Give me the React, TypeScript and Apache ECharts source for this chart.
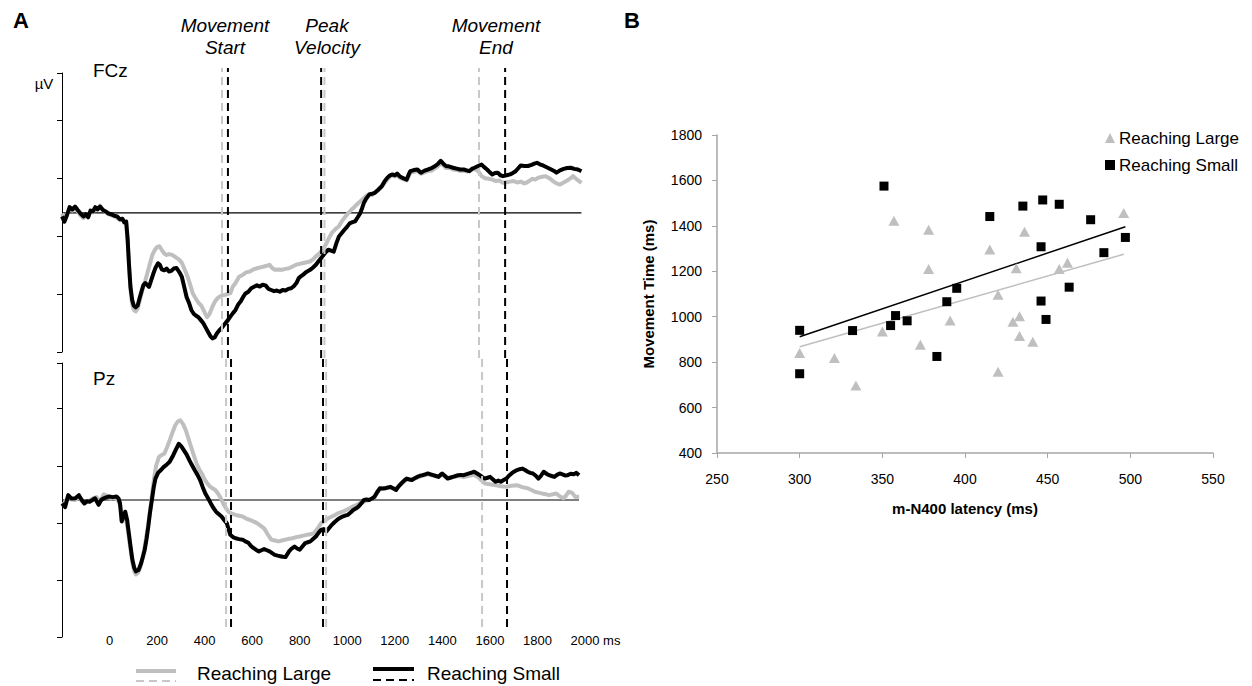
import React, { useEffect, useRef } from "react";
import * as echarts from "echarts";

const FONT = "Liberation Sans, Arial, sans-serif";
const GRAY = "#bfbfbf";
const BLACK = "#000000";

// ERP waveforms, [time (ms), amplitude (µV)]
const fczLarge: [number, number][] = [
  [-200,-0.02],[-190,-0.2],[-180,-0.05],[-168,0.12],[-156,0.08],[-145,0.18],[-134,0.05],[-122,-0.08],[-110,-0.18],[-100,-0.1],
  [-90,-0.12],[-80,0.05],[-70,0.02],[-60,0.15],[-50,0.15],[-40,0.25],[-28,0.12],[-16,0.02],[-4,-0.05],[8,-0.08],
  [20,-0.12],[32,-0.18],[44,-0.25],[54,-0.22],[62,-0.35],[70,-0.35],[76,-0.95],[82,-1.85],[88,-2.65],[95,-3.15],
  [102,-3.35],[110,-3.4],[118,-3.3],[126,-3.05],[134,-2.8],[142,-2.55],[150,-2.35],[160,-2.05],[170,-1.75],[180,-1.45],
  [190,-1.28],[200,-1.18],[210,-1.15],[220,-1.28],[230,-1.4],[240,-1.45],[250,-1.42],[260,-1.44],[270,-1.48],[282,-1.55],
  [294,-1.62],[304,-1.72],[316,-1.95],[328,-2.19],[338,-2.45],[350,-2.77],[362,-2.95],[374,-3.1],[386,-3.2],[398,-3.4],
  [410,-3.6],[420,-3.5],[433,-3.23],[444,-3.05],[455,-2.94],[470,-2.85],[485,-2.83],[496,-2.8],[508,-2.77],[518,-2.55],
  [530,-2.42],[545,-2.2],[560,-2.14],[575,-2.05],[590,-2.02],[605,-1.95],[620,-1.91],[635,-1.88],[650,-1.85],[662,-1.82],
  [673,-1.79],[684,-1.9],[695,-1.96],[710,-1.95],[725,-1.96],[740,-1.93],[755,-1.91],[770,-1.85],[785,-1.79],[800,-1.76],
  [815,-1.73],[830,-1.7],[845,-1.67],[856,-1.6],[868,-1.5],[880,-1.42],[890,-1.33],[902,-1.2],[913,-1.04],[924,-0.85],
  [935,-0.69],[950,-0.56],[965,-0.46],[976,-0.3],[988,-0.17],[1003,-0.02],[1018,0.12],[1029,0.2],[1040,0.29],[1052,0.38],
  [1063,0.46],[1078,0.58],[1093,0.66],[1104,0.62],[1115,0.7],[1130,0.78],[1145,0.9],[1156,1.02],[1168,1.15],[1180,1.25],
  [1190,1.3],[1200,1.26],[1210,1.3],[1220,1.22],[1235,1.17],[1250,1.12],[1258,1.26],[1265,1.38],[1280,1.42],[1295,1.45],
  [1310,1.35],[1325,1.4],[1340,1.45],[1355,1.46],[1370,1.55],[1382,1.62],[1393,1.7],[1404,1.64],[1415,1.55],[1430,1.56],
  [1445,1.5],[1460,1.48],[1475,1.45],[1490,1.46],[1505,1.43],[1520,1.48],[1535,1.52],[1550,1.45],[1565,1.27],[1580,1.2],
  [1595,1.18],[1610,1.15],[1625,1.1],[1640,1.12],[1655,1.04],[1670,1.06],[1685,1.08],[1700,1.1],[1715,1.05],[1730,1.08],
  [1745,1.02],[1753,1.04],[1765,1.1],[1778,1.18],[1790,1.15],[1805,1.22],[1820,1.25],[1835,1.27],[1850,1.2],[1865,1.1],
  [1880,1.02],[1895,0.98],[1910,1.05],[1925,1.12],[1940,1.2],[1950,1.27],[1962,1.18],[1975,1.1],[1985,1.04],
];

const fczSmall: [number, number][] = [
  [-200,-0.12],[-190,-0.3],[-180,-0.1],[-168,0.2],[-156,0.12],[-145,0.22],[-134,0.1],[-122,-0.02],[-110,-0.12],[-100,-0.05],
  [-90,-0.15],[-80,0.08],[-70,0.05],[-60,0.2],[-50,0.12],[-40,0.22],[-28,0.1],[-16,0.05],[-4,-0.02],[8,-0.05],
  [20,-0.1],[32,-0.12],[44,-0.22],[54,-0.2],[62,-0.32],[70,-0.3],[76,-0.9],[82,-1.8],[88,-2.55],[95,-3.0],
  [102,-3.2],[110,-3.26],[118,-3.2],[126,-2.95],[134,-2.72],[142,-2.5],[150,-2.42],[158,-2.48],[166,-2.55],[174,-2.35],
  [184,-2.1],[194,-1.88],[204,-1.74],[212,-1.8],[220,-1.95],[230,-1.98],[240,-1.92],[250,-2.02],[260,-2.0],[270,-1.92],
  [282,-1.9],[294,-2.05],[304,-2.2],[314,-2.55],[324,-2.9],[334,-3.1],[344,-3.35],[354,-3.48],[364,-3.55],[374,-3.6],
  [384,-3.7],[394,-3.8],[404,-3.95],[414,-4.1],[424,-4.25],[433,-4.33],[442,-4.3],[452,-4.15],[462,-4.05],[474,-3.95],
  [486,-3.82],[498,-3.7],[508,-3.58],[520,-3.45],[530,-3.35],[542,-3.15],[552,-3.05],[562,-2.9],[572,-2.78],[584,-2.72],
  [596,-2.6],[608,-2.55],[620,-2.5],[632,-2.54],[644,-2.48],[656,-2.5],[668,-2.62],[680,-2.66],[692,-2.7],[704,-2.68],
  [716,-2.72],[728,-2.66],[740,-2.68],[752,-2.62],[764,-2.6],[776,-2.52],[786,-2.42],[796,-2.25],[806,-2.18],[816,-2.12],
  [826,-2.05],[836,-2.0],[846,-1.95],[856,-1.88],[868,-1.79],[880,-1.66],[890,-1.56],[900,-1.45],[910,-1.35],[920,-1.27],
  [932,-1.3],[943,-1.34],[954,-1.05],[965,-0.81],[976,-0.7],[988,-0.58],[999,-0.48],[1010,-0.36],[1022,-0.32],[1033,-0.29],
  [1044,-0.15],[1055,0.0],[1063,0.18],[1070,0.35],[1080,0.5],[1093,0.64],[1104,0.66],[1115,0.69],[1130,0.8],[1145,0.92],
  [1156,1.08],[1168,1.21],[1180,1.3],[1190,1.33],[1200,1.3],[1210,1.36],[1220,1.27],[1235,1.2],[1250,1.15],[1258,1.32],
  [1265,1.44],[1280,1.48],[1295,1.5],[1305,1.42],[1310,1.39],[1325,1.46],[1340,1.5],[1355,1.55],[1370,1.62],[1382,1.7],
  [1393,1.8],[1404,1.7],[1415,1.62],[1430,1.6],[1445,1.56],[1460,1.53],[1475,1.5],[1490,1.5],[1502,1.47],[1513,1.44],
  [1524,1.52],[1535,1.56],[1550,1.62],[1565,1.67],[1576,1.58],[1588,1.5],[1600,1.4],[1610,1.33],[1622,1.38],[1633,1.39],
  [1644,1.3],[1655,1.27],[1670,1.3],[1685,1.33],[1697,1.38],[1708,1.44],[1720,1.55],[1730,1.64],[1745,1.62],[1760,1.62],
  [1775,1.66],[1787,1.7],[1798,1.73],[1810,1.68],[1820,1.65],[1828,1.62],[1843,1.56],[1858,1.5],[1870,1.45],[1880,1.39],
  [1895,1.47],[1910,1.52],[1925,1.55],[1940,1.56],[1955,1.52],[1970,1.5],[1985,1.44],
];

const pzLarge: [number, number][] = [
  [-199,-0.2],[-185,-0.05],[-174,0.1],[-160,0.02],[-144,0.0],[-129,0.1],[-115,-0.05],[-100,-0.1],[-84,-0.02],[-70,0.05],
  [-55,0.1],[-40,-0.05],[-24,0.2],[-10,0.15],[5,0.05],[20,0.08],[35,0.0],[45,-0.2],[55,-0.6],[66,-0.55],
  [76,-1.0],[86,-1.6],[96,-2.2],[104,-2.5],[111,-2.61],[120,-2.55],[130,-2.35],[140,-2.0],[148,-1.63],[160,-1.0],
  [171,-0.35],[180,0.3],[188,0.8],[196,1.2],[208,1.51],[220,1.58],[231,1.63],[242,1.85],[253,2.09],[264,2.35],
  [276,2.61],[287,2.75],[298,2.79],[310,2.65],[321,2.44],[332,2.15],[343,1.86],[355,1.55],[366,1.28],[377,1.08],
  [388,0.93],[400,0.72],[411,0.58],[422,0.48],[433,0.41],[445,0.35],[456,0.23],[467,0.08],[478,-0.12],[489,-0.28],
  [500,-0.41],[515,-0.48],[530,-0.52],[545,-0.55],[560,-0.58],[575,-0.65],[590,-0.7],[605,-0.75],[620,-0.81],[635,-0.9],
  [650,-0.99],[665,-1.2],[680,-1.39],[695,-1.42],[710,-1.45],[725,-1.42],[740,-1.39],[755,-1.36],[770,-1.34],[785,-1.3],
  [800,-1.28],[815,-1.25],[830,-1.22],[845,-1.2],[860,-1.16],[875,-1.0],[890,-0.81],[905,-0.72],[920,-0.64],[935,-0.58],
  [950,-0.52],[965,-0.45],[980,-0.41],[995,-0.35],[1010,-0.29],[1025,-0.22],[1040,-0.17],[1055,-0.1],[1070,-0.06],[1092,0.0],
  [1115,0.1],[1137,0.38],[1160,0.42],[1182,0.44],[1205,0.4],[1227,0.55],[1250,0.72],[1272,0.72],[1294,0.78],[1317,0.85],
  [1339,0.9],[1362,0.85],[1384,0.82],[1399,0.88],[1422,0.78],[1444,0.8],[1467,0.84],[1489,0.8],[1512,0.85],[1534,0.88],
  [1549,0.81],[1565,0.68],[1579,0.58],[1600,0.55],[1624,0.52],[1646,0.48],[1669,0.46],[1690,0.5],[1714,0.52],[1736,0.45],
  [1759,0.41],[1775,0.35],[1789,0.29],[1805,0.26],[1819,0.23],[1835,0.2],[1849,0.17],[1865,0.2],[1879,0.23],[1895,0.12],
  [1909,0.06],[1920,0.15],[1931,0.29],[1946,0.25],[1960,0.1],[1975,0.12],
];

const pzSmall: [number, number][] = [
  [-199,-0.12],[-187,-0.25],[-174,0.17],[-160,0.05],[-144,0.06],[-129,0.17],[-117,0.0],[-106,-0.12],[-95,-0.04],[-84,-0.06],
  [-72,0.0],[-61,0.06],[-46,-0.17],[-35,0.0],[-24,0.06],[-12,0.1],[-1,0.12],[14,0.1],[29,0.12],[38,0.05],
  [44,-0.12],[51,-0.75],[58,-0.6],[66,-0.41],[74,-0.7],[81,-1.16],[88,-1.6],[96,-2.09],[104,-2.38],[111,-2.5],
  [122,-2.45],[133,-2.21],[140,-2.0],[148,-1.74],[156,-1.35],[163,-0.93],[170,-0.45],[178,0.0],[186,0.45],[193,0.75],
  [204,0.95],[216,1.05],[227,1.15],[238,1.22],[253,1.34],[268,1.57],[280,1.78],[291,1.97],[302,1.88],[313,1.74],
  [325,1.58],[336,1.39],[347,1.22],[358,1.05],[370,0.88],[381,0.7],[392,0.45],[403,0.23],[415,0.05],[426,-0.12],
  [437,-0.28],[448,-0.41],[460,-0.5],[471,-0.58],[482,-0.7],[493,-0.81],[500,-1.0],[508,-1.22],[519,-1.3],[530,-1.34],
  [545,-1.37],[560,-1.39],[571,-1.45],[583,-1.49],[594,-1.6],[605,-1.68],[617,-1.75],[628,-1.8],[639,-1.76],[650,-1.72],
  [662,-1.76],[673,-1.8],[684,-1.86],[695,-1.92],[707,-1.95],[718,-1.97],[729,-1.99],[740,-2.0],[748,-1.9],[755,-1.8],
  [766,-1.7],[778,-1.63],[789,-1.7],[800,-1.74],[812,-1.62],[823,-1.51],[834,-1.48],[845,-1.45],[857,-1.36],[868,-1.28],
  [879,-1.15],[890,-1.05],[901,-1.02],[912,-1.1],[924,-0.98],[935,-0.87],[946,-0.78],[957,-0.7],[969,-0.63],[980,-0.58],
  [991,-0.55],[1002,-0.52],[1014,-0.44],[1025,-0.35],[1036,-0.3],[1047,-0.23],[1059,-0.12],[1070,0.0],[1081,0.02],[1092,0.0],
  [1104,0.05],[1115,0.12],[1126,0.28],[1137,0.41],[1149,0.4],[1160,0.41],[1171,0.44],[1182,0.46],[1194,0.4],[1205,0.35],
  [1216,0.48],[1227,0.58],[1239,0.68],[1250,0.75],[1261,0.72],[1272,0.7],[1283,0.76],[1294,0.81],[1306,0.85],[1317,0.87],
  [1328,0.9],[1339,0.93],[1351,0.9],[1362,0.87],[1373,0.84],[1384,0.81],[1392,0.88],[1399,0.93],[1410,0.85],[1422,0.75],
  [1433,0.78],[1444,0.81],[1456,0.84],[1467,0.87],[1478,0.88],[1489,0.87],[1500,0.9],[1512,0.93],[1523,0.96],[1534,0.99],
  [1546,0.93],[1557,0.87],[1568,0.8],[1579,0.75],[1590,0.78],[1601,0.81],[1613,0.72],[1624,0.64],[1635,0.68],[1646,0.64],
  [1658,0.7],[1669,0.75],[1680,0.85],[1691,0.93],[1703,1.0],[1714,1.05],[1725,1.08],[1736,1.1],[1748,1.05],[1759,0.99],
  [1770,0.95],[1781,0.93],[1793,0.85],[1804,0.75],[1815,0.85],[1826,0.99],[1838,0.92],[1849,0.87],[1860,0.84],[1871,0.81],
  [1882,0.88],[1894,0.93],[1905,0.9],[1916,0.86],[1927,0.87],[1940,0.92],[1952,0.9],[1964,0.95],[1975,0.87],
];

// Baseline extent (ms)
const fczBaseline = [-200, 1985];
const pzBaseline = [-200, 1975];

// Mean movement events (ms): start, peak velocity, end
const fczEventsLarge = [473, 904, 1554];
const fczEventsSmall = [498, 890, 1664];
const pzEventsLarge = [490, 911, 1567];
const pzEventsSmall = [511, 898, 1672];

// Panel B: m-N400 latency (ms) vs movement time (ms)
const latencyLarge = [300, 321, 334, 350, 357, 373, 378, 378, 391, 415, 420, 420, 429, 433, 433, 436, 431, 441, 457, 462, 496];
const mtLarge = [840, 818, 697, 935, 1423, 877, 1383, 1210, 983, 1296, 1097, 758, 978, 1002, 915, 1374, 1213, 890, 1210, 1238, 1457];
const latencySmall = [300, 300, 332, 351, 358, 355, 365, 389, 395, 383, 415, 435, 447, 457, 476, 497, 484, 446, 463, 446, 449];
const mtSmall = [940, 749, 939, 1575, 1005, 961, 982, 1066, 1125, 825, 1441, 1487, 1514, 1495, 1427, 1349, 1282, 1308, 1130, 1069, 988];

// Linear fits, [latency, movement time] at both ends
const fitLarge: [number, number][] = [[300, 868], [496, 1275]];
const fitSmall: [number, number][] = [[300, 912], [497, 1396]];

const seriesNames = ["Reaching Large", "Reaching Small"];

function eventSeries(times: number[], color: string, axis: number) {
  return times.map((t) => ({
    type: "line",
    xAxisIndex: axis,
    yAxisIndex: axis,
    data: [[t, 0], [t, 1]],
    symbol: "none",
    silent: true,
    z: 5,
    lineStyle: { color, width: 2, type: [8, 5] },
  }));
}

function waveSeries(data: [number, number][], color: string, axis: number, z: number) {
  return {
    type: "line",
    xAxisIndex: axis,
    yAxisIndex: axis,
    data,
    symbol: "none",
    silent: true,
    z,
    lineStyle: { color, width: 4, join: "round" },
  };
}

function baselineSeries(span: number[], axis: number) {
  return {
    type: "line",
    xAxisIndex: axis,
    yAxisIndex: axis,
    data: span.map((t) => [t, 0]),
    symbol: "none",
    silent: true,
    z: 1,
    lineStyle: { color: BLACK, width: 1.2 },
  };
}

const erpYAxis = (max: number, grid: number) => ({
  type: "value",
  gridIndex: grid,
  min: -4.8,
  max,
  interval: 2,
  axisLine: { show: true, onZero: false, lineStyle: { color: BLACK, width: 1 } },
  axisTick: { show: true, inside: false, length: 5, lineStyle: { color: BLACK } },
  axisLabel: { show: false },
  splitLine: { show: false },
});

const hiddenX = (grid: number) => ({ type: "value", gridIndex: grid, min: -200, max: 2000, show: false });
const hiddenY = (grid: number) => ({ type: "value", gridIndex: grid, min: 0, max: 1, show: false });

function text(t: string, x: number, y: number, size: number, opts: any = {}) {
  return {
    type: "text",
    x,
    y,
    silent: true,
    style: {
      text: t,
      fontSize: size,
      fontFamily: FONT,
      fontStyle: opts.italic ? "italic" : "normal",
      fontWeight: opts.bold ? "bold" : "normal",
      fill: BLACK,
      textAlign: opts.align || "center",
      align: opts.align || "center",
      textVerticalAlign: "middle",
      verticalAlign: "middle",
      lineHeight: opts.lineHeight || size,
    },
  };
}

function seg(x1: number, y1: number, x2: number, y2: number, color: string, width: number, dash?: number[]) {
  return {
    type: "line",
    silent: true,
    shape: { x1, y1, x2, y2 },
    style: { stroke: color, lineWidth: width, lineDash: dash || null },
  };
}

export default function App() {
  const ref = useRef<HTMLDivElement>(null);

  useEffect(() => {
    if (!ref.current) return;
    const chart = echarts.init(ref.current, null, { renderer: "svg" });

    const option: any = {
      animation: false,
      backgroundColor: "#ffffff",
      textStyle: { fontFamily: FONT },
      grid: [
        { left: 62, top: 73, width: 523, height: 279 },
        { left: 62, top: 363, width: 523, height: 274 },
        { left: 62, top: 68, width: 523, height: 290 },
        { left: 62, top: 358, width: 523, height: 269 },
        { left: 717, top: 135, width: 496, height: 318 },
      ],
      xAxis: [
        hiddenX(0),
        {
          type: "value",
          gridIndex: 1,
          min: -200,
          max: 2000,
          interval: 200,
          axisLine: { show: false, onZero: false },
          axisTick: { show: false },
          splitLine: { show: false },
          axisLabel: {
            margin: -3,
            fontSize: 13,
            color: BLACK,
            fontFamily: FONT,
            formatter: (v: number) => (v < 0 ? "" : v === 2000 ? "{e|2000 ms}" : String(v)),
            rich: { e: { fontSize: 13, color: BLACK, fontFamily: FONT, padding: [0, 0, 0, 21] } },
          },
        },
        hiddenX(2),
        hiddenX(3),
        {
          type: "value",
          gridIndex: 4,
          min: 250,
          max: 550,
          interval: 50,
          name: "m-N400 latency (ms)",
          nameLocation: "middle",
          nameGap: 48,
          nameTextStyle: { fontSize: 15, fontWeight: "bold", color: BLACK, fontFamily: FONT },
          axisLine: { show: true, onZero: false, lineStyle: { color: "#a6a6a6", width: 1.5 } },
          axisTick: { show: true, length: 5, lineStyle: { color: "#a6a6a6" } },
          splitLine: { show: false },
          axisLabel: { fontSize: 14, color: BLACK, fontFamily: FONT, margin: 19, formatter: (v: number) => String(v) },
        },
      ],
      yAxis: [
        erpYAxis(4.83, 0),
        erpYAxis(4.8, 1),
        hiddenY(2),
        hiddenY(3),
        {
          type: "value",
          gridIndex: 4,
          min: 400,
          max: 1800,
          interval: 200,
          name: "Movement Time (ms)",
          nameLocation: "middle",
          nameGap: 61,
          nameTextStyle: { fontSize: 15, fontWeight: "bold", color: BLACK, fontFamily: FONT },
          axisLine: { show: true, onZero: false, lineStyle: { color: "#a6a6a6", width: 1.5 } },
          axisTick: { show: true, length: 5, lineStyle: { color: "#a6a6a6" } },
          splitLine: { show: false },
          axisLabel: { fontSize: 14, color: BLACK, fontFamily: FONT, margin: 15, formatter: (v: number) => String(v) },
        },
      ],
      legend: {
        data: seriesNames,
        orient: "vertical",
        left: 1100,
        top: 123,
        itemWidth: 10,
        itemHeight: 10,
        itemGap: 7,
        selectedMode: false,
        textStyle: { fontSize: 17, color: BLACK, fontFamily: FONT, lineHeight: 20, padding: [0, 0, 0, -1] },
      },
      series: [
        baselineSeries(fczBaseline, 0),
        waveSeries(fczLarge, GRAY, 0, 2),
        waveSeries(fczSmall, BLACK, 0, 3),
        baselineSeries(pzBaseline, 1),
        waveSeries(pzLarge, GRAY, 1, 2),
        waveSeries(pzSmall, BLACK, 1, 3),
        ...eventSeries(fczEventsLarge, "#c8c8c8", 2),
        ...eventSeries(fczEventsSmall, BLACK, 2),
        ...eventSeries(pzEventsLarge, "#c8c8c8", 3),
        ...eventSeries(pzEventsSmall, BLACK, 3),
        {
          type: "line",
          xAxisIndex: 4,
          yAxisIndex: 4,
          data: fitLarge,
          symbol: "none",
          silent: true,
          z: 2,
          lineStyle: { color: GRAY, width: 1.5 },
        },
        {
          type: "line",
          xAxisIndex: 4,
          yAxisIndex: 4,
          data: fitSmall,
          symbol: "none",
          silent: true,
          z: 2,
          lineStyle: { color: BLACK, width: 1.5 },
        },
        {
          name: seriesNames[0],
          type: "scatter",
          xAxisIndex: 4,
          yAxisIndex: 4,
          symbol: "triangle",
          symbolSize: [11, 10],
          itemStyle: { color: GRAY, opacity: 1 },
          z: 3,
          data: latencyLarge.map((x, i) => [x, mtLarge[i]]),
        },
        {
          name: seriesNames[1],
          type: "scatter",
          xAxisIndex: 4,
          yAxisIndex: 4,
          symbol: "rect",
          symbolSize: 9,
          itemStyle: { color: BLACK, opacity: 1 },
          z: 4,
          data: latencySmall.map((x, i) => [x, mtSmall[i]]),
        },
      ],
      graphic: [
        text("A", 21, 20, 22, { bold: true }),
        text("B", 632, 20, 22, { bold: true }),
        text("Movement\nStart", 225, 36, 19, { italic: true, lineHeight: 22 }),
        text("Peak\nVelocity", 327, 36, 19, { italic: true, lineHeight: 22 }),
        text("Movement\nEnd", 496, 36, 19, { italic: true, lineHeight: 22 }),
        text("µV", 44, 83, 15),
        text("FCz", 93, 70, 19, { align: "left" }),
        text("Pz", 93, 378, 19, { align: "left" }),
        seg(136, 671, 176, 671, GRAY, 4),
        seg(136, 681, 176, 681, "#c8c8c8", 2, [8, 5]),
        text("Reaching Large", 197, 673, 19, { align: "left" }),
        seg(373, 669, 414, 669, BLACK, 4),
        seg(373, 680, 414, 680, BLACK, 2, [8, 5]),
        text("Reaching Small", 427, 673, 19, { align: "left" }),
      ],
    };

    chart.setOption(option);
    return () => chart.dispose();
  }, []);

  return (
    <div
      ref={ref}
      style={{ position: "absolute", left: 0, top: 0, width: 1252, height: 686, background: "#ffffff" }}
    />
  );
}
